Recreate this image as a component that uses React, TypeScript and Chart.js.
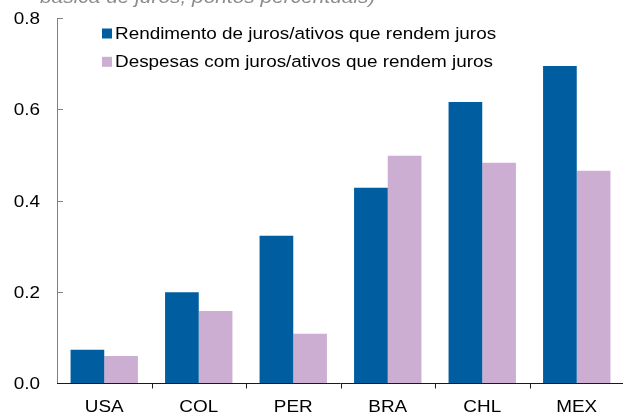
import React, { useEffect, useRef } from "react";
import { Chart, registerables } from "chart.js";

Chart.register(...registerables);

const categories = ["USA", "COL", "PER", "BRA", "CHL", "MEX"];
const rendimento = [0.073, 0.199, 0.323, 0.428, 0.616, 0.695];
const despesas = [0.059, 0.158, 0.108, 0.498, 0.483, 0.465];
const seriesNames = [
  "Rendimento de juros/ativos que rendem juros",
  "Despesas com juros/ativos que rendem juros",
];
const seriesColors = ["#005EA0", "#CDAED3"];
const subtitleTail = "básica de juros; pontos percentuais)";
const yTicks = [0, 0.2, 0.4, 0.6, 0.8];

const FONT = '"Liberation Sans", Arial, sans-serif';
const STRETCH = 1.16;

function stretchedText(
  ctx: CanvasRenderingContext2D,
  text: string,
  x: number,
  y: number,
  align: "left" | "right" | "center"
) {
  const w = ctx.measureText(text).width * STRETCH;
  let left = x;
  if (align === "right") left = x - w;
  if (align === "center") left = x - w / 2;
  ctx.save();
  ctx.translate(left, y);
  ctx.scale(STRETCH, 1);
  ctx.textAlign = "left";
  ctx.fillText(text, 0, 0);
  ctx.restore();
}

const decorPlugin = {
  id: "decor",
  afterDraw(chart: any) {
    const ctx = chart.ctx as CanvasRenderingContext2D;
    const x = chart.scales.x;
    const y = chart.scales.y;
    const area = chart.chartArea;
    ctx.save();
    // y axis
    ctx.strokeStyle = "#808080";
    ctx.lineWidth = 1;
    ctx.beginPath();
    ctx.moveTo(area.left + 0.5, y.getPixelForValue(0.8));
    ctx.lineTo(area.left + 0.5, y.getPixelForValue(0));
    ctx.stroke();
    yTicks.forEach((v) => {
      const py = Math.round(y.getPixelForValue(v)) + 0.5;
      ctx.beginPath();
      ctx.moveTo(area.left, py);
      ctx.lineTo(area.left + 6, py);
      ctx.stroke();
    });
    // x axis
    ctx.strokeStyle = "#1a1a1a";
    const zy = Math.round(y.getPixelForValue(0)) + 0.5;
    ctx.beginPath();
    ctx.moveTo(area.left, zy);
    ctx.lineTo(area.right, zy);
    ctx.stroke();
    for (let i = 1; i < categories.length; i++) {
      const px = Math.round((x.getPixelForValue(i - 1) + x.getPixelForValue(i)) / 2) + 0.5;
      ctx.beginPath();
      ctx.moveTo(px, zy);
      ctx.lineTo(px, zy + 5);
      ctx.stroke();
    }
    // tick labels
    ctx.font = `16.3px ${FONT}`;
    ctx.fillStyle = "#000000";
    ctx.textBaseline = "alphabetic";
    yTicks.forEach((v) => {
      stretchedText(ctx, v.toFixed(1), 40, y.getPixelForValue(v) + 6, "right");
    });
    categories.forEach((c, i) => {
      stretchedText(ctx, c, x.getPixelForValue(i), 412, "center");
    });
    // legend
    const lb = [39, 67.3];
    seriesNames.forEach((name, i) => {
      ctx.fillStyle = seriesColors[i];
      ctx.fillRect(102, lb[i] - 10.5, 10, 10);
      ctx.fillStyle = "#000000";
      stretchedText(ctx, name, 115, lb[i], "left");
    });
    // clipped subtitle line
    ctx.font = `italic 18px ${FONT}`;
    ctx.fillStyle = "#8c8c8c";
    stretchedText(ctx, subtitleTail, 40, 3, "left");
    ctx.restore();
  },
};

export default function App() {
  const ref = useRef<HTMLCanvasElement>(null);
  useEffect(() => {
    document.body.style.margin = "0";
    const chart = new Chart(ref.current as HTMLCanvasElement, {
      type: "bar",
      data: {
        labels: categories,
        datasets: [
          {
            label: seriesNames[0],
            data: rendimento,
            backgroundColor: seriesColors[0],
            categoryPercentage: 0.713,
            barPercentage: 1.0,
          },
          {
            label: seriesNames[1],
            data: despesas,
            backgroundColor: seriesColors[1],
            categoryPercentage: 0.713,
            barPercentage: 1.0,
          },
        ],
      },
      options: {
        responsive: false,
        animation: false,
        layout: { padding: { top: 18, right: 0, left: 0, bottom: 0 } },
        plugins: { legend: { display: false }, tooltip: { enabled: false } },
        scales: {
          x: {
            grid: { display: false, drawTicks: false },
            border: { display: false },
            ticks: { display: false },
            afterFit: (s: any) => {
              s.height = 32;
            },
          },
          y: {
            min: 0,
            max: 0.8,
            grid: { display: false, drawTicks: false },
            border: { display: false },
            ticks: { display: false, stepSize: 0.2 },
            afterFit: (s: any) => {
              s.width = 57;
            },
          },
        },
      },
      plugins: [decorPlugin],
    });
    return () => chart.destroy();
  }, []);
  return (
    <div style={{ position: "fixed", left: 0, top: 0, width: 623, height: 415, overflow: "hidden" }}>
      <canvas ref={ref} width={624} height={415} style={{ width: 624, height: 415, display: "block" }} />
    </div>
  );
}
